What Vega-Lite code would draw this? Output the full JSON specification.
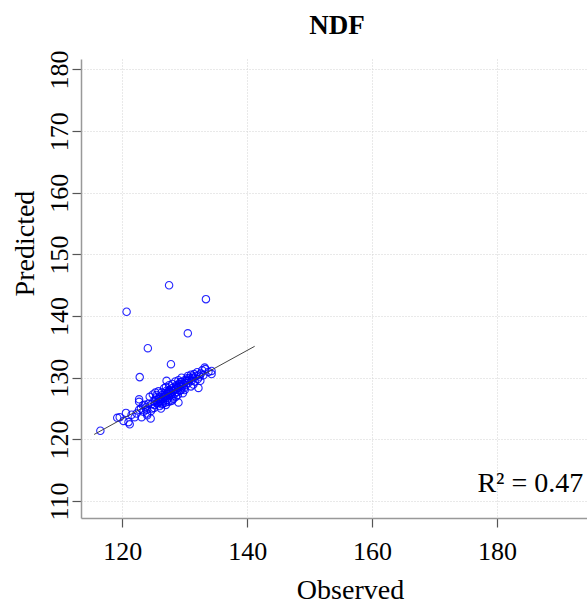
{
  "$schema": "https://vega.github.io/schema/vega-lite/v6.json",
  "width": 506,
  "height": 459,
  "autosize": {"type": "none"},
  "padding": {"left": 81, "top": 59, "right": 0, "bottom": 85},
  "background": "white",
  "title": {"text": "NDF", "font": "Liberation Serif", "fontSize": 27, "fontWeight": "bold", "color": "black", "anchor": "middle", "frame": "group", "baseline": "alphabetic", "offset": 23, "dx": 3, "dy": 34},
  "config": {"view": {"stroke": null}},
  "datasets": {
    "pts": [
      {"Observed": 127.5, "Predicted": 145.0}, {"Observed": 133.4, "Predicted": 142.75}, {"Observed": 120.7, "Predicted": 140.7},
      {"Observed": 130.5, "Predicted": 137.2}, {"Observed": 124.1, "Predicted": 134.8}, {"Observed": 127.8, "Predicted": 132.2},
      {"Observed": 122.8, "Predicted": 130.1}, {"Observed": 116.5, "Predicted": 121.4}, {"Observed": 129.0, "Predicted": 126.0},
      {"Observed": 124.55, "Predicted": 123.4}, {"Observed": 121.2, "Predicted": 122.45}, {"Observed": 132.2, "Predicted": 128.35},
      {"Observed": 119.2, "Predicted": 123.5}, {"Observed": 119.6, "Predicted": 123.6}, {"Observed": 120.2, "Predicted": 123.0},
      {"Observed": 120.6, "Predicted": 124.3}, {"Observed": 121.0, "Predicted": 122.8}, {"Observed": 122.0, "Predicted": 123.6},
      {"Observed": 121.5, "Predicted": 124.0}, {"Observed": 122.3, "Predicted": 124.2}, {"Observed": 123.1, "Predicted": 123.6},
      {"Observed": 122.7, "Predicted": 124.8}, {"Observed": 123.0, "Predicted": 125.0}, {"Observed": 122.7, "Predicted": 126.1},
      {"Observed": 122.7, "Predicted": 126.5}, {"Observed": 123.4, "Predicted": 124.5}, {"Observed": 123.8, "Predicted": 125.2},
      {"Observed": 124.0, "Predicted": 124.2}, {"Observed": 124.2, "Predicted": 125.8}, {"Observed": 124.4, "Predicted": 126.9},
      {"Observed": 123.6, "Predicted": 125.6}, {"Observed": 124.8, "Predicted": 125.0}, {"Observed": 124.6, "Predicted": 124.6},
      {"Observed": 123.3, "Predicted": 125.5}, {"Observed": 124.0, "Predicted": 123.9}, {"Observed": 125.0, "Predicted": 126.2},
      {"Observed": 125.2, "Predicted": 125.6}, {"Observed": 125.4, "Predicted": 126.8}, {"Observed": 125.6, "Predicted": 125.9},
      {"Observed": 125.8, "Predicted": 126.5}, {"Observed": 126.0, "Predicted": 126.9}, {"Observed": 126.0, "Predicted": 125.4},
      {"Observed": 126.2, "Predicted": 126.3}, {"Observed": 126.4, "Predicted": 127.2}, {"Observed": 126.5, "Predicted": 125.8},
      {"Observed": 126.6, "Predicted": 126.6}, {"Observed": 126.8, "Predicted": 127.5}, {"Observed": 126.9, "Predicted": 126.0},
      {"Observed": 127.0, "Predicted": 127.0}, {"Observed": 127.1, "Predicted": 127.9}, {"Observed": 127.2, "Predicted": 126.4},
      {"Observed": 127.3, "Predicted": 127.3}, {"Observed": 127.4, "Predicted": 126.8}, {"Observed": 127.5, "Predicted": 128.0},
      {"Observed": 127.6, "Predicted": 127.1}, {"Observed": 127.7, "Predicted": 126.2}, {"Observed": 127.8, "Predicted": 127.6},
      {"Observed": 127.9, "Predicted": 128.3}, {"Observed": 128.0, "Predicted": 127.0}, {"Observed": 128.1, "Predicted": 127.8},
      {"Observed": 128.2, "Predicted": 126.6}, {"Observed": 128.3, "Predicted": 128.5}, {"Observed": 128.4, "Predicted": 127.4},
      {"Observed": 128.5, "Predicted": 128.1}, {"Observed": 128.6, "Predicted": 126.9}, {"Observed": 128.7, "Predicted": 128.8},
      {"Observed": 128.8, "Predicted": 127.7}, {"Observed": 128.9, "Predicted": 128.4}, {"Observed": 129.1, "Predicted": 129.0},
      {"Observed": 129.2, "Predicted": 127.9}, {"Observed": 129.3, "Predicted": 128.6}, {"Observed": 129.4, "Predicted": 128.0},
      {"Observed": 129.5, "Predicted": 129.3}, {"Observed": 129.6, "Predicted": 128.5}, {"Observed": 129.7, "Predicted": 127.5},
      {"Observed": 129.8, "Predicted": 129.0}, {"Observed": 129.9, "Predicted": 128.3}, {"Observed": 130.0, "Predicted": 129.6},
      {"Observed": 125.5, "Predicted": 127.2}, {"Observed": 126.3, "Predicted": 127.6}, {"Observed": 127.0, "Predicted": 128.5},
      {"Observed": 127.5, "Predicted": 128.8}, {"Observed": 128.0, "Predicted": 129.0}, {"Observed": 128.5, "Predicted": 129.4},
      {"Observed": 129.0, "Predicted": 129.6}, {"Observed": 129.5, "Predicted": 130.0}, {"Observed": 126.2, "Predicted": 125.0},
      {"Observed": 127.0, "Predicted": 125.6}, {"Observed": 128.0, "Predicted": 126.3}, {"Observed": 125.8, "Predicted": 127.8},
      {"Observed": 126.7, "Predicted": 128.3}, {"Observed": 124.9, "Predicted": 127.3}, {"Observed": 125.3, "Predicted": 127.6},
      {"Observed": 130.2, "Predicted": 128.8}, {"Observed": 130.4, "Predicted": 129.9}, {"Observed": 130.5, "Predicted": 130.3},
      {"Observed": 130.6, "Predicted": 129.2}, {"Observed": 130.8, "Predicted": 130.0}, {"Observed": 131.0, "Predicted": 130.5},
      {"Observed": 131.1, "Predicted": 129.5}, {"Observed": 131.3, "Predicted": 130.2}, {"Observed": 131.5, "Predicted": 130.6},
      {"Observed": 131.6, "Predicted": 129.4}, {"Observed": 131.8, "Predicted": 130.3}, {"Observed": 132.0, "Predicted": 130.9},
      {"Observed": 132.1, "Predicted": 129.8}, {"Observed": 132.4, "Predicted": 130.2}, {"Observed": 132.6, "Predicted": 130.7},
      {"Observed": 132.8, "Predicted": 131.2}, {"Observed": 133.0, "Predicted": 130.4}, {"Observed": 133.3, "Predicted": 131.4},
      {"Observed": 133.8, "Predicted": 130.95}, {"Observed": 134.3, "Predicted": 130.6}, {"Observed": 134.3, "Predicted": 131.1},
      {"Observed": 131.0, "Predicted": 128.6}, {"Observed": 130.0, "Predicted": 128.0}, {"Observed": 131.4, "Predicted": 128.9},
      {"Observed": 132.5, "Predicted": 129.5}, {"Observed": 133.2, "Predicted": 131.65}, {"Observed": 132.3, "Predicted": 130.5},
      {"Observed": 127.1, "Predicted": 129.5}, {"Observed": 126.1, "Predicted": 126.0}, {"Observed": 126.7, "Predicted": 126.9},
      {"Observed": 127.3, "Predicted": 127.7}, {"Observed": 125.9, "Predicted": 126.2}, {"Observed": 128.9, "Predicted": 127.2},
      {"Observed": 129.3, "Predicted": 129.3}, {"Observed": 130.3, "Predicted": 129.5}, {"Observed": 125.1, "Predicted": 125.1},
      {"Observed": 125.7, "Predicted": 126.0}, {"Observed": 126.1, "Predicted": 126.6}, {"Observed": 126.5, "Predicted": 126.2},
      {"Observed": 126.9, "Predicted": 127.1}, {"Observed": 127.2, "Predicted": 127.5}, {"Observed": 127.6, "Predicted": 127.9},
      {"Observed": 127.9, "Predicted": 127.3}, {"Observed": 128.2, "Predicted": 128.0}, {"Observed": 128.6, "Predicted": 128.4},
      {"Observed": 129.0, "Predicted": 128.7}, {"Observed": 129.4, "Predicted": 128.9}, {"Observed": 124.7, "Predicted": 125.7},
      {"Observed": 125.3, "Predicted": 126.4}, {"Observed": 126.3, "Predicted": 125.7}, {"Observed": 127.4, "Predicted": 126.1},
      {"Observed": 130.7, "Predicted": 129.6}, {"Observed": 131.2, "Predicted": 129.9}, {"Observed": 123.9, "Predicted": 124.8}
    ],
    "fit": [{"Observed": 115.5, "Predicted": 120.8}, {"Observed": 141.2, "Predicted": 135.1}],
    "ann": [{"Observed": 193.8, "Predicted": 111.4, "label": "R² = 0.47"}]
  },
  "layer": [
    {
      "mark": {"type": "rule", "color": "#c4c4c4", "strokeWidth": 1.5},
      "encoding": {"y": {"datum": 181.7, "type": "quantitative"}}
    },
    {
      "data": {"name": "pts"},
      "mark": {"type": "point", "shape": "circle", "filled": false, "color": "#0000ff", "size": 55, "strokeWidth": 1.1, "opacity": 0.85},
      "encoding": {
        "x": {
          "field": "Observed", "type": "quantitative",
          "scale": {"domain": [113.4, 194.4], "nice": false, "zero": false},
          "axis": {
            "title": "Observed", "values": [120, 140, 160, 180], "grid": true, "gridColor": "#d3d3d3", "gridDash": [1, 2],
            "domainColor": "#999999", "domainWidth": 1.5, "tickColor": "#555555", "tickSize": 9, "tickWidth": 1.2,
            "labelFont": "Liberation Serif", "labelFontSize": 26, "labelColor": "black", "labelBaseline": "alphabetic",
            "labelPadding": 32, "labelAngle": 0, "labelFlush": false,
            "titleFont": "Liberation Serif", "titleFontSize": 28, "titleFontWeight": "normal", "titleColor": "black",
            "titleBaseline": "alphabetic", "titleAlign": "center", "titleX": 269, "titleY": 80
          }
        },
        "y": {
          "field": "Predicted", "type": "quantitative",
          "scale": {"domain": [107.25, 181.7], "nice": false, "zero": false},
          "axis": {
            "title": "Predicted", "values": [110, 120, 130, 140, 150, 160, 170, 180], "grid": true, "gridColor": "#d3d3d3", "gridDash": [1, 2],
            "domainColor": "#999999", "domainWidth": 1.5, "tickColor": "#555555", "tickSize": 9, "tickWidth": 1.2,
            "labelFont": "Liberation Serif", "labelFontSize": 26, "labelColor": "black", "labelAngle": 270,
            "labelAlign": "center", "labelBaseline": "alphabetic", "labelPadding": 5, "labelFlush": false,
            "titleFont": "Liberation Serif", "titleFontSize": 28, "titleFontWeight": "normal", "titleColor": "black",
            "titleAngle": 270, "titleBaseline": "alphabetic", "titleAlign": "center", "titleX": -48, "titleY": 184
          }
        }
      }
    },
    {
      "data": {"name": "fit"},
      "mark": {"type": "line", "color": "#444444", "strokeWidth": 1},
      "encoding": {
        "x": {"field": "Observed", "type": "quantitative"},
        "y": {"field": "Predicted", "type": "quantitative"}
      }
    },
    {
      "data": {"name": "ann"},
      "mark": {"type": "text", "align": "right", "baseline": "alphabetic", "font": "Liberation Serif", "fontSize": 28, "color": "black"},
      "encoding": {
        "x": {"field": "Observed", "type": "quantitative"},
        "y": {"field": "Predicted", "type": "quantitative"},
        "text": {"field": "label"}
      }
    }
  ]
}
